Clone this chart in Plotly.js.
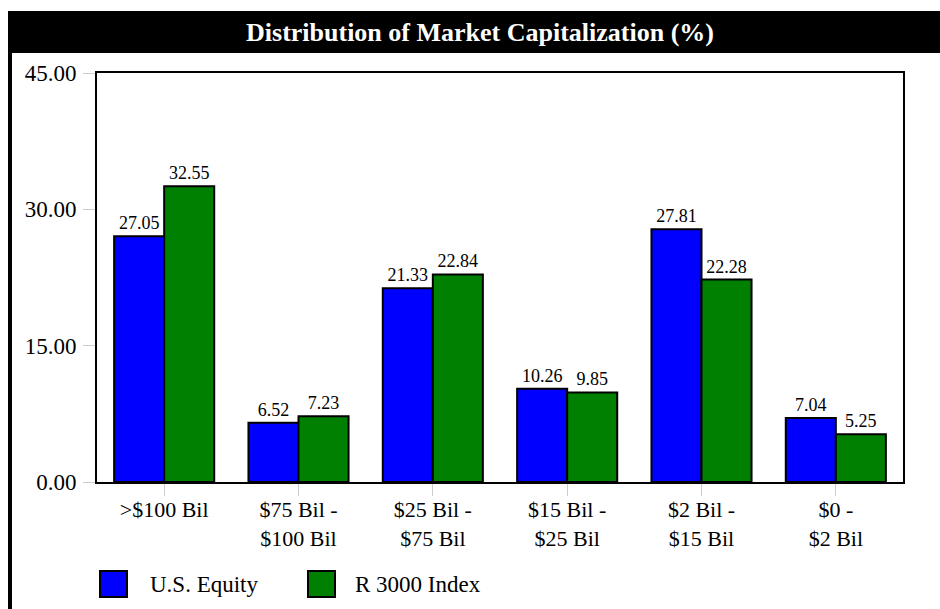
<!DOCTYPE html>
<html>
<head>
<meta charset="utf-8">
<script src="https://cdn.plot.ly/plotly-3.0.1.min.js"></script>
<style>html,body{margin:0;padding:0;background:#fff;}#chart{width:940px;height:609px;}</style>
</head>
<body>
<div id="chart"></div>
<script>
var categories = [">$100 Bil", "$75 Bil -<br>$100 Bil", "$25 Bil -<br>$75 Bil", "$15 Bil -<br>$25 Bil", "$2 Bil -<br>$15 Bil", "$0 -<br>$2 Bil"];
var seriesNames = ["U.S. Equity", "R 3000 Index"];
var usEquity = [27.05, 6.52, 21.33, 10.26, 27.81, 7.04];
var r3000 = [32.55, 7.23, 22.84, 9.85, 22.28, 5.25];
var yTickVals = [0, 15, 30, 45];
var chartTitle = "Distribution of Market Capitalization (%)";

var W = 940, H = 609;
var L = 97, R = 903, T = 73, B = 482;
function px(x) { return (x - L) / (R - L); }
function py(y) { return (B - y) / (B - T); }
var FONT = "Liberation Serif";
var colors = ["#0000ff", "#008000"];

function barTrace(vals, name, color) {
  return {
    type: "bar", x: categories, y: vals, name: name,
    marker: { color: color, line: { color: "#000", width: 2 } },
    text: vals.map(function (v) { return v.toFixed(2); }),
    textposition: "outside", cliponaxis: false,
    textfont: { family: FONT, size: 18, color: "#000" },
    hoverinfo: "x+y"
  };
}

var data = [barTrace(usEquity, seriesNames[0], colors[0]), barTrace(r3000, seriesNames[1], colors[1])];

var shapes = [
  { type: "rect", xref: "paper", yref: "paper", layer: "below", x0: px(8), x1: px(940), y0: py(11), y1: py(53), fillcolor: "#000", line: { width: 0 } },
  { type: "rect", xref: "paper", yref: "paper", layer: "below", x0: px(8), x1: px(12), y0: py(53), y1: py(609), fillcolor: "#000", line: { width: 0 } }
];
var annotations = [];
var legendX = [100, 308];
var legendTextX = [148, 353];
for (var i = 0; i < seriesNames.length; i++) {
  shapes.push({ type: "rect", xref: "paper", yref: "paper", x0: px(legendX[i]), x1: px(legendX[i] + 27), y0: py(571), y1: py(597), fillcolor: colors[i], line: { color: "#000", width: 2 } });
  annotations.push({ xref: "paper", yref: "paper", x: px(legendTextX[i]), y: py(584), xanchor: "left", yanchor: "middle", showarrow: false, text: seriesNames[i], font: { family: FONT, size: 23, color: "#000" } });
}

var layout = {
  width: W, height: H,
  margin: { l: L, r: W - R, t: T, b: H - B, pad: 0 },
  paper_bgcolor: "#fff", plot_bgcolor: "#fff",
  font: { family: FONT, color: "#000" },
  showlegend: false,
  barmode: "group", bargap: 0.255, bargroupgap: 0,
  title: { text: "<b>" + chartTitle + "</b>", xref: "container", yref: "container", x: 480 / W, y: 1 - 32 / H, xanchor: "center", yanchor: "middle", font: { family: FONT, size: 26, color: "#fff" } },
  xaxis: {
    type: "category", showline: true, mirror: true, linecolor: "#000", linewidth: 2,
    ticks: "outside", ticklen: 12, tickcolor: "#cccccc", tickwidth: 1, ticklabelstandoff: -5,
    tickfont: { family: FONT, size: 22, color: "#000" }, showgrid: false, zeroline: false
  },
  yaxis: {
    range: [0, 45], tickvals: yTickVals, ticktext: yTickVals.map(function (v) { return v.toFixed(2); }),
    showline: true, mirror: true, linecolor: "#000", linewidth: 2,
    ticks: "outside", ticklen: 12, tickcolor: "#cccccc", tickwidth: 1, ticklabelstandoff: 2,
    tickfont: { family: FONT, size: 23, color: "#000" }, showgrid: false, zeroline: false, fixedrange: true
  },
  shapes: shapes,
  annotations: annotations
};

Plotly.newPlot("chart", data, layout, { displayModeBar: false, staticPlot: true });
</script>
</body>
</html>
